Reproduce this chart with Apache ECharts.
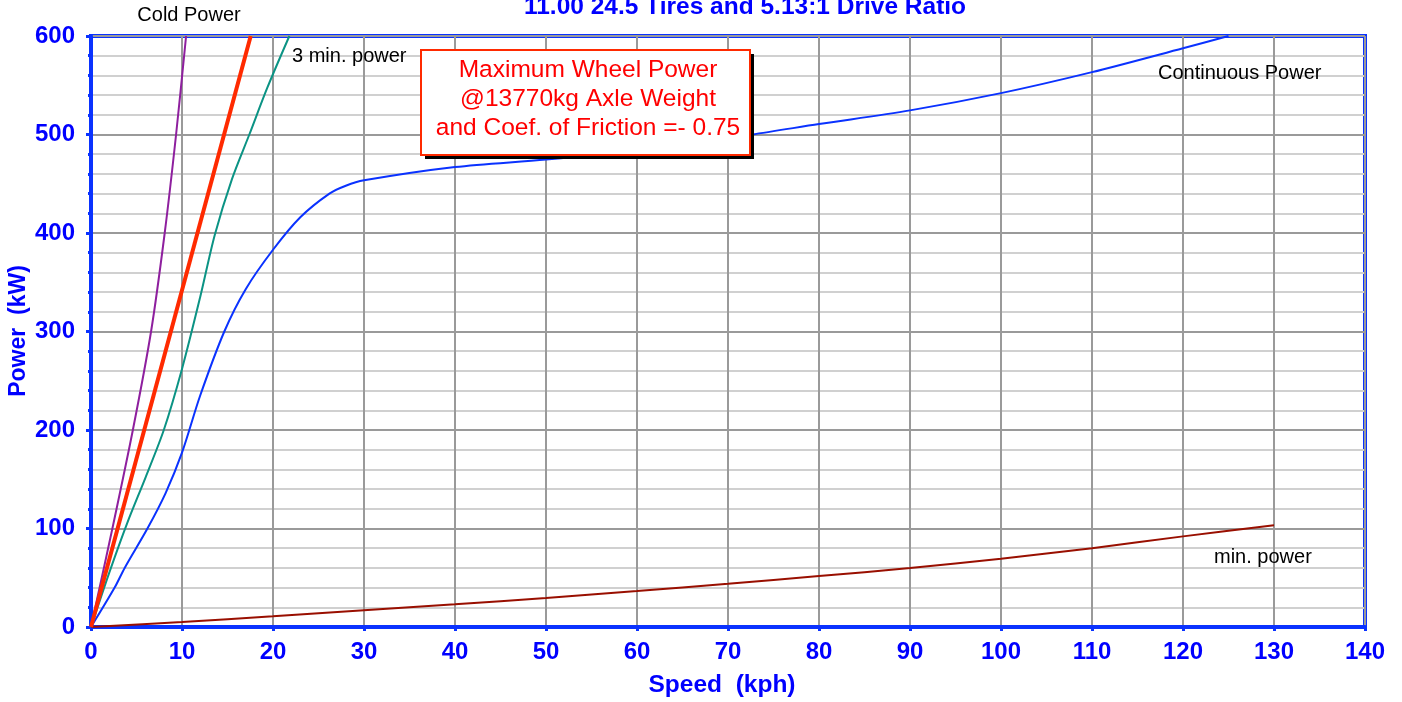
<!DOCTYPE html>
<html><head><meta charset="utf-8">
<script src="https://cdn.jsdelivr.net/npm/echarts@6/dist/echarts.min.js"></script>
<style>html,body{margin:0;padding:0;background:#fff}#c{width:1402px;height:702px}</style>
</head><body><div id="c"></div>
<script>
const titleText = '11.00 24.5 Tires and 5.13:1 Drive Ratio';
const xName = 'Speed  (kph)';
const yName = 'Power  (kW)';
const xTicks = [0,10,20,30,40,50,60,70,80,90,100,110,120,130,140];
const yTicks = [0,100,200,300,400,500,600];
// [speed kph, power kW]
const coldPower = [[0,0],[2.35,100],[4.6,200],[6.6,300],[8.1,400],[9.35,500],[10.45,600]];
const maxWheelPower = [[0,0],[17.55,600]];
const threeMinPower = [[0,0],[2,55],[4,106],[6,152],[8,200],[10,262],[12,335],[13.6,398],[15.5,455],[17.4,500],[19.4,548],[21.8,600]];
const continuousPower = [[0,0],[2.6,40],[3.7,60],[6.2,100],[8.2,136],[10,177],[12,235],[14.65,300],[17,343],[20,383],[23,416],[26.2,440],[28,448],[30,453.5],[40,467],[50,474.6],[60,484],[72.6,500],[80,510.6],[90,524.5],[100,542],[110,563.3],[120,587.6],[125,600]];
const minPower = [[0,0],[10,5],[20,10.8],[30,17],[40,23],[50,29.5],[60,36.5],[70,44],[80,51.7],[90,59.8],[100,69.3],[110,80],[120,92],[130,103.3]];
const boxLines = ['Maximum Wheel Power','@13770kg Axle Weight','and Coef. of Friction =- 0.75'];

const BLUE = '#0a32ff', LBL = '#0000ff';
const chart = echarts.init(document.getElementById('c'));
const lab = (t,x,y,align)=>({type:'text',x:x,y:y,style:{text:t,font:'20px "Liberation Sans", Arial, sans-serif',fill:'#000',align:align||'left',verticalAlign:'middle'},z:10});
const boxFont = '24.5px "Liberation Sans", Arial, sans-serif';
chart.setOption({
  animation:false,
  grid:{left:91,right:37,top:36,bottom:75,show:true,borderColor:BLUE,borderWidth:4,backgroundColor:'transparent',containLabel:false,outerBoundsMode:'none'},
  xAxis:{type:'value',min:0,max:140,interval:10,
    name:xName,nameLocation:'middle',nameGap:46,
    nameTextStyle:{color:LBL,fontWeight:'bold',fontSize:24.5,fontFamily:'Liberation Sans',padding:[0,12,0,0]},
    axisLine:{lineStyle:{color:BLUE,width:4}},
    axisTick:{show:true,length:4,lineStyle:{color:BLUE,width:3}},
    axisLabel:{color:LBL,fontWeight:'bold',fontSize:24,fontFamily:'Liberation Sans',margin:13,
      formatter:v=>xTicks.includes(v)?String(v):''},
    splitLine:{show:true,lineStyle:{color:'#9a9a9a',width:2}}},
  yAxis:{type:'value',min:0,max:600,interval:100,
    axisLine:{lineStyle:{color:BLUE,width:4}},
    axisTick:{show:true,length:5,lineStyle:{color:BLUE,width:3}},
    minorTick:{show:true,splitNumber:5,length:3,lineStyle:{color:BLUE,width:3}},
    axisLabel:{color:LBL,fontWeight:'bold',fontSize:24,fontFamily:'Liberation Sans',margin:16,
      formatter:v=>yTicks.includes(v)?String(v):''},
    splitLine:{show:true,lineStyle:{color:'#9a9a9a',width:2}},
    minorSplitLine:{show:true,lineStyle:{color:'#d0d0d0',width:2}}},
  series:[
    {name:'min. power',type:'line',data:minPower,showSymbol:false,smooth:0.3,lineStyle:{color:'#990f00',width:2},z:3},
    {name:'Continuous Power',type:'line',data:continuousPower,showSymbol:false,smooth:0.3,lineStyle:{color:'#0a32ff',width:2},z:3},
    {name:'3 min. power',type:'line',data:threeMinPower,showSymbol:false,smooth:0.3,lineStyle:{color:'#0b9384',width:2},z:3},
    {name:'Max Wheel Power',type:'line',data:maxWheelPower,showSymbol:false,lineStyle:{color:'#ff2a00',width:4},z:4},
    {name:'Cold Power',type:'line',data:coldPower,showSymbol:false,smooth:0.3,lineStyle:{color:'#8e1f9e',width:2},z:3}
  ],
  graphic:[
    {type:'text',x:745,y:7,style:{text:titleText,font:'bold 24.5px "Liberation Sans", Arial, sans-serif',fill:LBL,align:'center',verticalAlign:'middle'},z:10},
    {type:'text',x:19,y:331,rotation:Math.PI/2,style:{text:yName,font:'bold 23px "Liberation Sans", Arial, sans-serif',fill:LBL,align:'center',verticalAlign:'middle'},z:10},
    lab('Cold Power',189,15,'center'),
    lab('3 min. power',292,56),
    lab('Continuous Power',1158,73),
    lab('min. power',1214,557),
    {type:'rect',shape:{x:425,y:54,width:329,height:105},style:{fill:'#000'},z:20},
    {type:'rect',shape:{x:421,y:50,width:329,height:105},style:{fill:'#fff',stroke:'#ff2a00',lineWidth:2},z:21},
    {type:'text',x:588,y:70,style:{text:boxLines[0],font:boxFont,fill:'#ff0000',align:'center',verticalAlign:'middle'},z:22},
    {type:'text',x:588,y:99,style:{text:boxLines[1],font:boxFont,fill:'#ff0000',align:'center',verticalAlign:'middle'},z:22},
    {type:'text',x:588,y:128,style:{text:boxLines[2],font:boxFont,fill:'#ff0000',align:'center',verticalAlign:'middle'},z:22}
  ]
});
</script></body></html>
